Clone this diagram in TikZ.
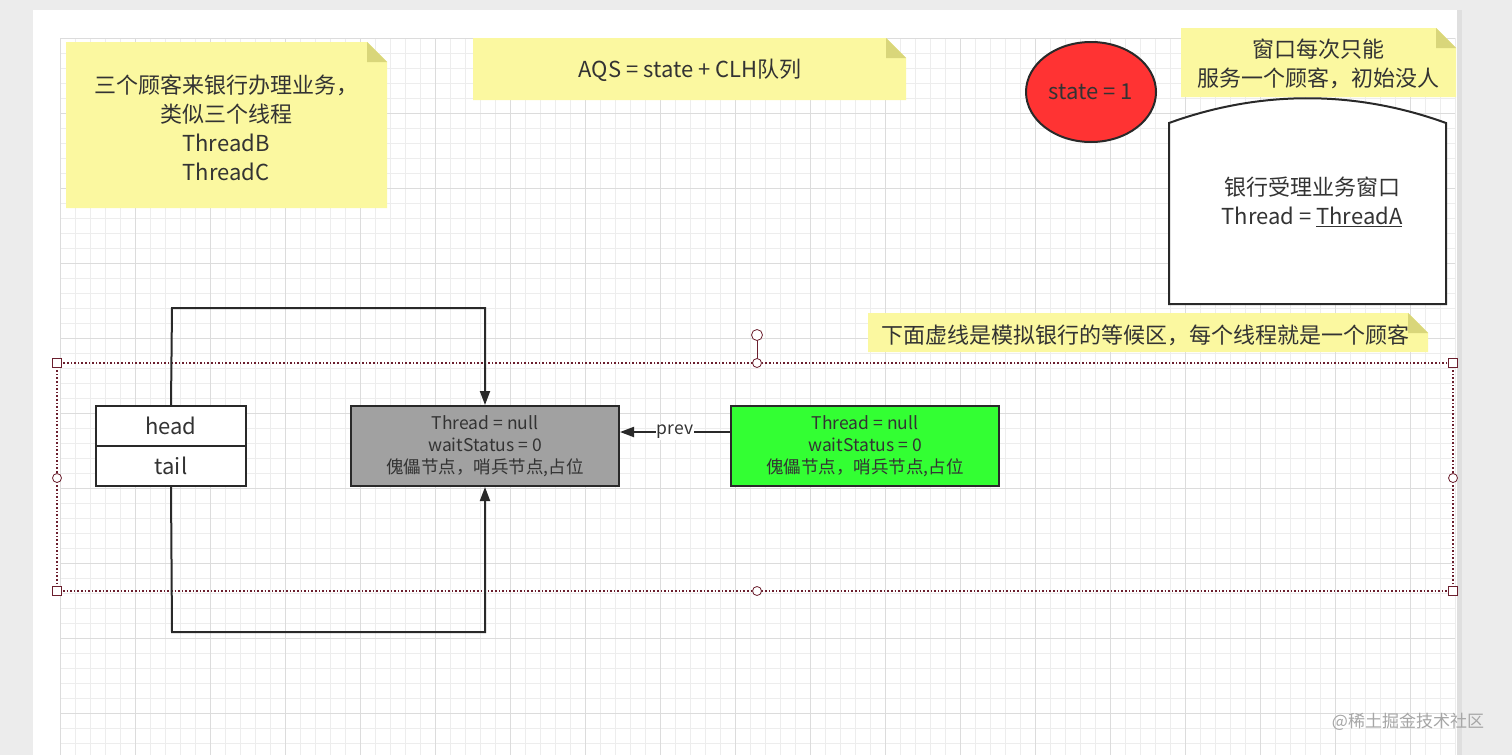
\documentclass[tikz,border=0pt]{standalone}
\usepackage{fontspec}
\setmainfont{Noto Sans CJK SC}
\usetikzlibrary{arrows.meta,shapes.geometric}
\definecolor{note}{HTML}{FBF8A0}
\definecolor{fold}{HTML}{D9D67A}
\definecolor{txt}{HTML}{333333}
\definecolor{grid}{HTML}{EDEDED}
\definecolor{gridm}{HTML}{DCDCDC}
\definecolor{sel}{HTML}{6B1F2E}
\tikzset{
  x=1pt,y=-1pt,
  notebox/.style={fill=note,draw=none},
  box/.style={draw=txt!80!black,line width=2pt,inner sep=0pt},
  lbl/.style={text=txt,font=\fontsize{22}{29}\selectfont,align=center},
  small/.style={text=txt,font=\fontsize{17.5}{22}\selectfont,align=center},
  conn/.style={line width=2pt,draw=txt!80!black},
  arr/.style={conn,-{Triangle[length=14pt,width=10pt]}},
  hs/.style={draw=sel,fill=white,line width=0.8pt},
}
\newcommand{\mynote}[5]{% name x1 y1 x2 y2
  \fill[note] (#2,#3) -- (#4-20,#3) -- (#4,#3+20) -- (#4,#5) -- (#2,#5) -- cycle;
  \fill[fold] (#4-20,#3) -- (#4,#3+20) -- (#4-20,#3+20) -- cycle;
  \coordinate (#1) at ({(#2+#4)/2},{(#3+#5)/2});}
\begin{document}
\begin{tikzpicture}
\useasboundingbox (0,0) rectangle (1512,755);
\fill[gray!15] (0,0) rectangle (1512,755);
\fill[white] (33,10) rectangle (1457,755);
\fill[gray!25] (1457,10) rectangle (1462,755);
% grid
\foreach \i in {0,...,93} {\draw[grid,line width=0.6pt] (60+15*\i,38) -- (60+15*\i,755);}
\foreach \j in {0,...,47} {\draw[grid,line width=0.6pt] (60,38+15*\j) -- (1455,38+15*\j);}
\foreach \i in {0,...,18} {\draw[gridm,line width=0.8pt] (60+75*\i,38) -- (60+75*\i,755);}
\foreach \j in {0,...,9} {\draw[gridm,line width=0.8pt] (60,38+75*\j) -- (1455,38+75*\j);}
% notes
\mynote{n1}{66}{42}{387}{208}
\node[lbl] (t1) at (226,128) {三个顾客来银行办理业务，\\类似三个线程\\ThreadB\\ThreadC};
\mynote{n2}{473}{38}{906}{100}
\node[lbl] (t2) at (690,70) {AQS = state + CLH队列};
\mynote{n3}{1181}{28}{1456}{97}
\node[lbl] (t3) at (1318,64) {窗口每次只能\\服务一个顾客，初始没人};
\mynote{n4}{868}{313}{1428}{352}
\node[lbl,anchor=west] (t4) at (878,335) {下面虚线是模拟银行的等候区，每个线程就是一个顾客};
% state
\node[ellipse,draw=txt!80!black,line width=2pt,fill=red!80!white,minimum width=130pt,minimum height=100pt,lbl] (st) at (1091,92) {state = 1};
% window
\draw[line width=2pt,draw=txt!80!black,fill=white] (1169,304) -- (1169,123) .. controls (1260,90) and (1355,90) .. (1446,123) -- (1446,304) -- cycle;
\node[lbl] (win) at (1312,202) {银行受理业务窗口\\Thread = \underline{ThreadA}};
% waiting area
\draw[sel,line width=1.6pt,dotted] (57,363) rectangle (1453,591);
\coordinate (rot) at (757,335);
\draw[sel,line width=0.8pt] (rot) -- (757,363);
\draw[hs] (rot) circle (5.5pt);
\foreach \p in {(57,363),(1453,363),(57,591),(1453,591)} {\draw[hs] \p ++(-4.5,-4.5) rectangle ++(9,9);}
\foreach \p in {(757,363),(57,478),(1453,478),(757,591)} {\draw[hs] \p circle (4.5pt);}
% head/tail
\node[box,fill=white,minimum width=150pt,minimum height=40pt,lbl] (head) at (171,426) {head};
\node[box,fill=white,minimum width=150pt,minimum height=40pt,lbl] (tail) at (171,466) {tail};
% nodes
\node[box,fill=black!37,minimum width=268pt,minimum height=80pt,small] (g) at (485,446) {Thread = null\\waitStatus = 0\\傀儡节点，哨兵节点,占位};
\node[box,fill=green!80!white,minimum width=268pt,minimum height=80pt,small] (gr) at (865,446) {Thread = null\\waitStatus = 0\\傀儡节点，哨兵节点,占位};
\draw[arr] (gr.west |- 0,432) -- node[fill=white,inner sep=1pt,small]{prev} (g.east |- 0,432);
\draw[arr] (head.north) -- (172,308) -- (485,308) -- (g.north);
\draw[arr] (tail.south) -- (172,632) -- (485,632) -- (g.south);
\node[text=gray!70,font=\fontsize{17}{19}\selectfont] (wm) at (1408,722) {@稀土掘金技术社区};
\end{tikzpicture}
\end{document}
